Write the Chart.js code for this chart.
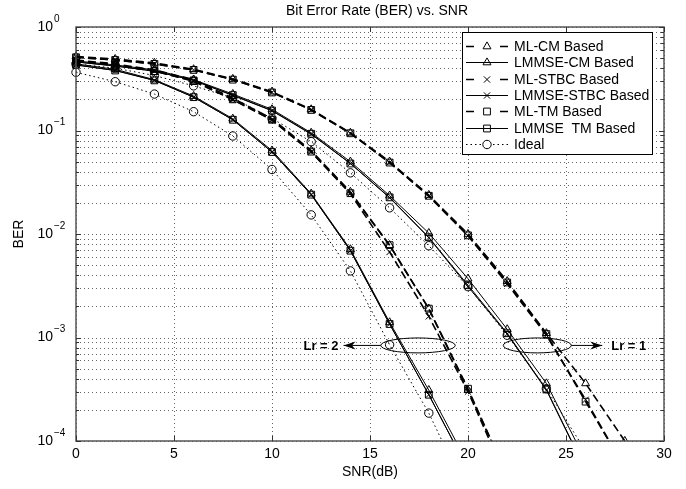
<!DOCTYPE html>
<html><head><meta charset="utf-8">
<script src="https://cdn.jsdelivr.net/npm/chart.js@4.4.0/dist/chart.umd.min.js"></script>
<style>html,body{margin:0;padding:0;background:#fff;}#wrap{width:686px;height:489px;}</style>
</head><body><div id="wrap"><canvas id="c" width="686" height="489"></canvas></div>
<script>
// ---------------- data ----------------
const snr = [0, 2, 4, 6, 8, 10, 12, 14, 16, 18, 20, 22, 24, 26, 28];
const xTicks = [0, 5, 10, 15, 20, 25, 30];
const yDecades = [1e-4, 1e-3, 1e-2, 1e-1, 1];
const yExponents = ['\u22124', '\u22123', '\u22122', '\u22121', '0'];
const seriesLabels = ['ML-CM Based', 'LMMSE-CM Based', 'ML-STBC Based', 'LMMSE-STBC Based', 'ML-TM Based', 'LMMSE  TM Based', 'Ideal'];

// Lr = 1 group
const mlCmLr1      = [0.52, 0.49, 0.45, 0.39, 0.315, 0.237, 0.16, 0.095, 0.050, 0.0238, 0.0100, 0.0035, 0.0011, 3.6e-4, 1.0e-4];
const lmmseCmLr1   = [0.47, 0.43, 0.385, 0.31, 0.225, 0.16, 0.095, 0.050, 0.0235, 0.0102, 0.0037, 0.00120, 3.6e-4, 6.5e-5];
const mlStbcLr1    = [0.51, 0.48, 0.44, 0.385, 0.31, 0.233, 0.158, 0.094, 0.049, 0.0232, 0.0096, 0.0033, 0.00105, 2.5e-4, 5.5e-5];
const lmmseStbcLr1 = [0.46, 0.42, 0.375, 0.305, 0.218, 0.155, 0.092, 0.048, 0.0224, 0.0092, 0.0031, 0.00108, 3.1e-4, 5.2e-5];
const mlTmLr1      = [0.51, 0.48, 0.44, 0.385, 0.31, 0.233, 0.158, 0.094, 0.049, 0.0234, 0.0097, 0.0034, 0.00108, 2.4e-4, 5.5e-5];
const lmmseTmLr1   = [0.46, 0.42, 0.375, 0.305, 0.22, 0.156, 0.093, 0.048, 0.0226, 0.0093, 0.0032, 0.00110, 3.15e-4, 5.3e-5];
const idealLr1     = [0.44, 0.40, 0.34, 0.27, 0.206, 0.131, 0.078, 0.039, 0.0179, 0.0077, 0.0031, 0.00105, 3.2e-4, 8e-5];

// Lr = 2 group
const mlCmLr2      = [0.48, 0.44, 0.385, 0.31, 0.205, 0.13, 0.064, 0.0255, 0.0078, 0.0019, 3.1e-4, 4.6e-5];
const lmmseCmLr2   = [0.44, 0.39, 0.31, 0.215, 0.13, 0.064, 0.0245, 0.0071, 0.0014, 3.1e-4, 6e-5];
const mlStbcLr2    = [0.47, 0.43, 0.375, 0.30, 0.198, 0.126, 0.062, 0.0245, 0.0067, 0.0016, 3.0e-4, 4.2e-5];
const lmmseStbcLr2 = [0.43, 0.38, 0.305, 0.21, 0.127, 0.062, 0.024, 0.0069, 0.00135, 2.8e-4, 5.3e-5];
const mlTmLr2      = [0.47, 0.43, 0.375, 0.30, 0.20, 0.127, 0.0625, 0.0248, 0.0078, 0.0019, 3.2e-4, 4.6e-5];
const lmmseTmLr2   = [0.43, 0.38, 0.305, 0.21, 0.127, 0.062, 0.024, 0.0069, 0.00135, 2.8e-4, 5.3e-5];
const idealLr2     = [0.365, 0.296, 0.225, 0.152, 0.0885, 0.042, 0.0153, 0.0044, 8.5e-4, 1.86e-4, 3e-5];

// annotation anchors (data units)
const annLabels = ['Lr = 2', 'Lr = 1'];
const annEllipseX = [[15.55, 19.35], [21.8, 25.27]];
const annEllipseY = [9.9e-4, 7.1e-4];
const annArrowTip = [13.65, 26.85];
const annTextX = [12.5, 28.2];
const annDir = [-1, 1];

// ---------------- styles ----------------
const FONT = '"Liberation Sans", Arial, Helvetica, sans-serif';
const kinds = {
  ml:    {borderDash: [8, 4], borderWidth: 1.6},
  lmmse: {borderDash: [], borderWidth: 1},
  ideal: {borderDash: [1.5, 3], borderWidth: 1}
};
const markerRadius = {triangle: 4.6, crossRot: 4.4, rect: 4.8, circle: 4.2};

function pts(vals) { return vals.map((v, i) => ({x: snr[i], y: v})); }
function ds(label, vals, kind, marker) {
  const k = kinds[kind];
  return {
    label, data: pts(vals), borderColor: '#000', backgroundColor: 'rgba(0,0,0,0)',
    borderWidth: k.borderWidth, borderDash: k.borderDash, tension: 0,
    pointStyle: marker, pointRadius: markerRadius[marker], pointBorderWidth: 1,
    pointBorderColor: '#000', pointBackgroundColor: 'rgba(0,0,0,0)',
    clip: {left: 8, top: 0, right: 0, bottom: 0}, _kind: kind
  };
}

const datasets = [
  ds(seriesLabels[0], mlCmLr1, 'ml', 'triangle'),
  ds(seriesLabels[1], lmmseCmLr1, 'lmmse', 'triangle'),
  ds(seriesLabels[2], mlStbcLr1, 'ml', 'crossRot'),
  ds(seriesLabels[3], lmmseStbcLr1, 'lmmse', 'crossRot'),
  ds(seriesLabels[4], mlTmLr1, 'ml', 'rect'),
  ds(seriesLabels[5], lmmseTmLr1, 'lmmse', 'rect'),
  ds(seriesLabels[6], idealLr1, 'ideal', 'circle'),
  ds(seriesLabels[0] + ' (Lr=2)', mlCmLr2, 'ml', 'triangle'),
  ds(seriesLabels[1] + ' (Lr=2)', lmmseCmLr2, 'lmmse', 'triangle'),
  ds(seriesLabels[2] + ' (Lr=2)', mlStbcLr2, 'ml', 'crossRot'),
  ds(seriesLabels[3] + ' (Lr=2)', lmmseStbcLr2, 'lmmse', 'crossRot'),
  ds(seriesLabels[4] + ' (Lr=2)', mlTmLr2, 'ml', 'rect'),
  ds(seriesLabels[5] + ' (Lr=2)', lmmseTmLr2, 'lmmse', 'rect'),
  ds(seriesLabels[6] + ' (Lr=2)', idealLr2, 'ideal', 'circle')
];

function yGridValues() {
  const out = [];
  for (let i = 0; i < yDecades.length - 1; i++) {
    for (let k = 1; k <= 9; k++) out.push({v: Number((yDecades[i] * k).toPrecision(4)), major: k === 1});
  }
  out.push({v: yDecades[yDecades.length - 1], major: true});
  return out;
}

function drawMarker(ctx, style, x, y, r) {
  ctx.beginPath();
  if (style === 'triangle') {
    for (let i = 0; i < 3; i++) {
      const a = i * 2 * Math.PI / 3;
      const px = x + Math.sin(a) * r, py = y - Math.cos(a) * r;
      if (i === 0) ctx.moveTo(px, py); else ctx.lineTo(px, py);
    }
    ctx.closePath();
  } else if (style === 'crossRot') {
    const o = r * Math.SQRT1_2;
    ctx.moveTo(x - o, y - o); ctx.lineTo(x + o, y + o);
    ctx.moveTo(x - o, y + o); ctx.lineTo(x + o, y - o);
  } else if (style === 'rect') {
    const s = r * Math.SQRT1_2;
    ctx.rect(x - s, y - s, 2 * s, 2 * s);
  } else {
    ctx.arc(x, y, r, 0, Math.PI * 2);
  }
  ctx.stroke();
}

const matlabPlugin = {
  id: 'matlab',
  beforeDatasetsDraw(chart) {
    const {ctx, chartArea: a, scales: {x, y}} = chart;
    ctx.save();
    ctx.strokeStyle = 'rgba(0,0,0,0.6)';
    ctx.lineWidth = 1;
    ctx.setLineDash([1, 3]);
    xTicks.forEach(t => {
      const px = Math.round(x.getPixelForValue(t)) + 0.5;
      ctx.beginPath(); ctx.moveTo(px, a.top); ctx.lineTo(px, a.bottom); ctx.stroke();
    });
    yGridValues().forEach(g => {
      const py = Math.round(y.getPixelForValue(g.v)) + 0.5;
      ctx.beginPath(); ctx.moveTo(a.left, py); ctx.lineTo(a.right, py); ctx.stroke();
    });
    ctx.restore();
  },
  afterDraw(chart) {
    const {ctx, chartArea: a, scales: {x, y}} = chart;
    ctx.save();
    ctx.setLineDash([]);
    // legend box
    const lx = 462, ly = 32, lw = 190, lh = 122;
    ctx.fillStyle = '#fff';
    ctx.fillRect(lx, ly, lw, lh);
    ctx.strokeStyle = '#000'; ctx.lineWidth = 1;
    ctx.strokeRect(lx + 0.5, ly + 0.5, lw, lh);
    ctx.font = '14px ' + FONT;
    ctx.textBaseline = 'middle'; ctx.textAlign = 'left'; ctx.fillStyle = '#000';
    for (let i = 0; i < 7; i++) {
      const d = chart.data.datasets[i];
      const cy = Math.round(46 + i * 16.3) + 0.5;
      const x0 = 466, x1 = 508, xm = 487;
      ctx.lineWidth = 1;
      if (d._kind === 'ml') {
        ctx.lineWidth = 1.5;
        ctx.beginPath(); ctx.moveTo(x0, cy); ctx.lineTo(x0 + 8, cy); ctx.moveTo(x1 - 8, cy); ctx.lineTo(x1, cy); ctx.stroke();
      } else if (d._kind === 'lmmse') {
        ctx.beginPath(); ctx.moveTo(x0, cy); ctx.lineTo(x1, cy); ctx.stroke();
      } else {
        ctx.setLineDash([1.5, 3]);
        ctx.beginPath(); ctx.moveTo(x0, cy); ctx.lineTo(xm - 6, cy); ctx.moveTo(xm + 6, cy); ctx.lineTo(x1, cy); ctx.stroke();
        ctx.setLineDash([]);
      }
      ctx.lineWidth = 1;
      drawMarker(ctx, d.pointStyle, xm, cy, d.pointRadius);
      ctx.fillText(seriesLabels[i], 514, cy + 1);
    }
    // frame
    ctx.strokeStyle = '#555'; ctx.lineWidth = 1.5;
    ctx.strokeRect(a.left, a.top, a.right - a.left, a.bottom - a.top);
    // inner ticks
    ctx.lineWidth = 1; ctx.strokeStyle = '#333';
    xTicks.forEach(t => {
      const px = Math.round(x.getPixelForValue(t)) + 0.5;
      ctx.beginPath();
      ctx.moveTo(px, a.bottom); ctx.lineTo(px, a.bottom - 5);
      ctx.moveTo(px, a.top); ctx.lineTo(px, a.top + 5);
      ctx.stroke();
    });
    yGridValues().forEach(g => {
      const py = Math.round(y.getPixelForValue(g.v)) + 0.5;
      const len = g.major ? 5 : 3;
      ctx.beginPath();
      ctx.moveTo(a.left, py); ctx.lineTo(a.left + len, py);
      ctx.moveTo(a.right, py); ctx.lineTo(a.right - len, py);
      ctx.stroke();
    });
    // y tick labels with superscript exponents
    ctx.fillStyle = '#000';
    yDecades.forEach((v, i) => {
      const py = y.getPixelForValue(v);
      ctx.font = '14px ' + FONT;
      ctx.textAlign = 'right'; ctx.textBaseline = 'middle';
      ctx.fillText('10', 53, py);
      ctx.font = '10px ' + FONT;
      ctx.textAlign = 'left';
      ctx.fillText(yExponents[i], 54, py - 8);
    });
    // title
    ctx.font = '14px ' + FONT;
    ctx.textAlign = 'center'; ctx.textBaseline = 'middle';
    ctx.fillText('Bit Error Rate (BER) vs. SNR', (a.left + a.right) / 2 + 7, 11);
    // annotations
    for (let i = 0; i < annLabels.length; i++) {
      const ex0 = x.getPixelForValue(annEllipseX[i][0]);
      const ex1 = x.getPixelForValue(annEllipseX[i][1]);
      const ey0 = y.getPixelForValue(annEllipseY[0]);
      const ey1 = y.getPixelForValue(annEllipseY[1]);
      const cx = (ex0 + ex1) / 2, cy = (ey0 + ey1) / 2;
      ctx.strokeStyle = '#000'; ctx.lineWidth = 1;
      ctx.beginPath(); ctx.ellipse(cx, cy, (ex1 - ex0) / 2, (ey1 - ey0) / 2, 0, 0, Math.PI * 2); ctx.stroke();
      const tip = x.getPixelForValue(annArrowTip[i]);
      const start = annDir[i] < 0 ? ex0 : ex1;
      ctx.beginPath(); ctx.moveTo(start, cy); ctx.lineTo(tip, cy); ctx.stroke();
      const hl = 12 * annDir[i];
      ctx.beginPath();
      ctx.moveTo(tip, cy);
      ctx.lineTo(tip - hl, cy - 4);
      ctx.lineTo(tip - hl * 0.7, cy);
      ctx.lineTo(tip - hl, cy + 4);
      ctx.closePath(); ctx.fillStyle = '#000'; ctx.fill();
      ctx.font = 'bold 13px ' + FONT;
      ctx.textAlign = 'center'; ctx.textBaseline = 'middle';
      ctx.fillText(annLabels[i], x.getPixelForValue(annTextX[i]), cy + 1);
    }
    ctx.restore();
  }
};

new Chart(document.getElementById('c').getContext('2d'), {
  type: 'line',
  data: {datasets},
  options: {
    responsive: false, animation: false, devicePixelRatio: 1,
    layout: {padding: {top: 27, right: 22, bottom: 0, left: 0}},
    plugins: {legend: {display: false}, tooltip: {enabled: false}, title: {display: false}},
    scales: {
      x: {
        type: 'linear', min: 0, max: 30,
        afterBuildTicks: s => { s.ticks = xTicks.map(v => ({value: v})); },
        ticks: {font: {size: 14, family: FONT}, color: '#000', padding: 5, maxRotation: 0, autoSkip: false},
        grid: {display: false, drawTicks: false}, border: {display: false},
        title: {display: true, text: 'SNR(dB)', color: '#000', font: {size: 14, family: FONT}, padding: {top: 0, bottom: 8}},
        afterFit: s => { s.height = 48; }
      },
      y: {
        type: 'logarithmic', min: 1e-4, max: 1,
        afterBuildTicks: s => { s.ticks = yGridValues().map(g => ({value: g.v})); },
        ticks: {callback: () => '', autoSkip: false},
        grid: {display: false, drawTicks: false}, border: {display: false},
        title: {display: true, text: 'BER', color: '#000', font: {size: 14, family: FONT}, padding: {top: 11, bottom: 0}},
        afterFit: s => { s.width = 76; }
      }
    }
  },
  plugins: [matlabPlugin]
});
</script></body></html>
